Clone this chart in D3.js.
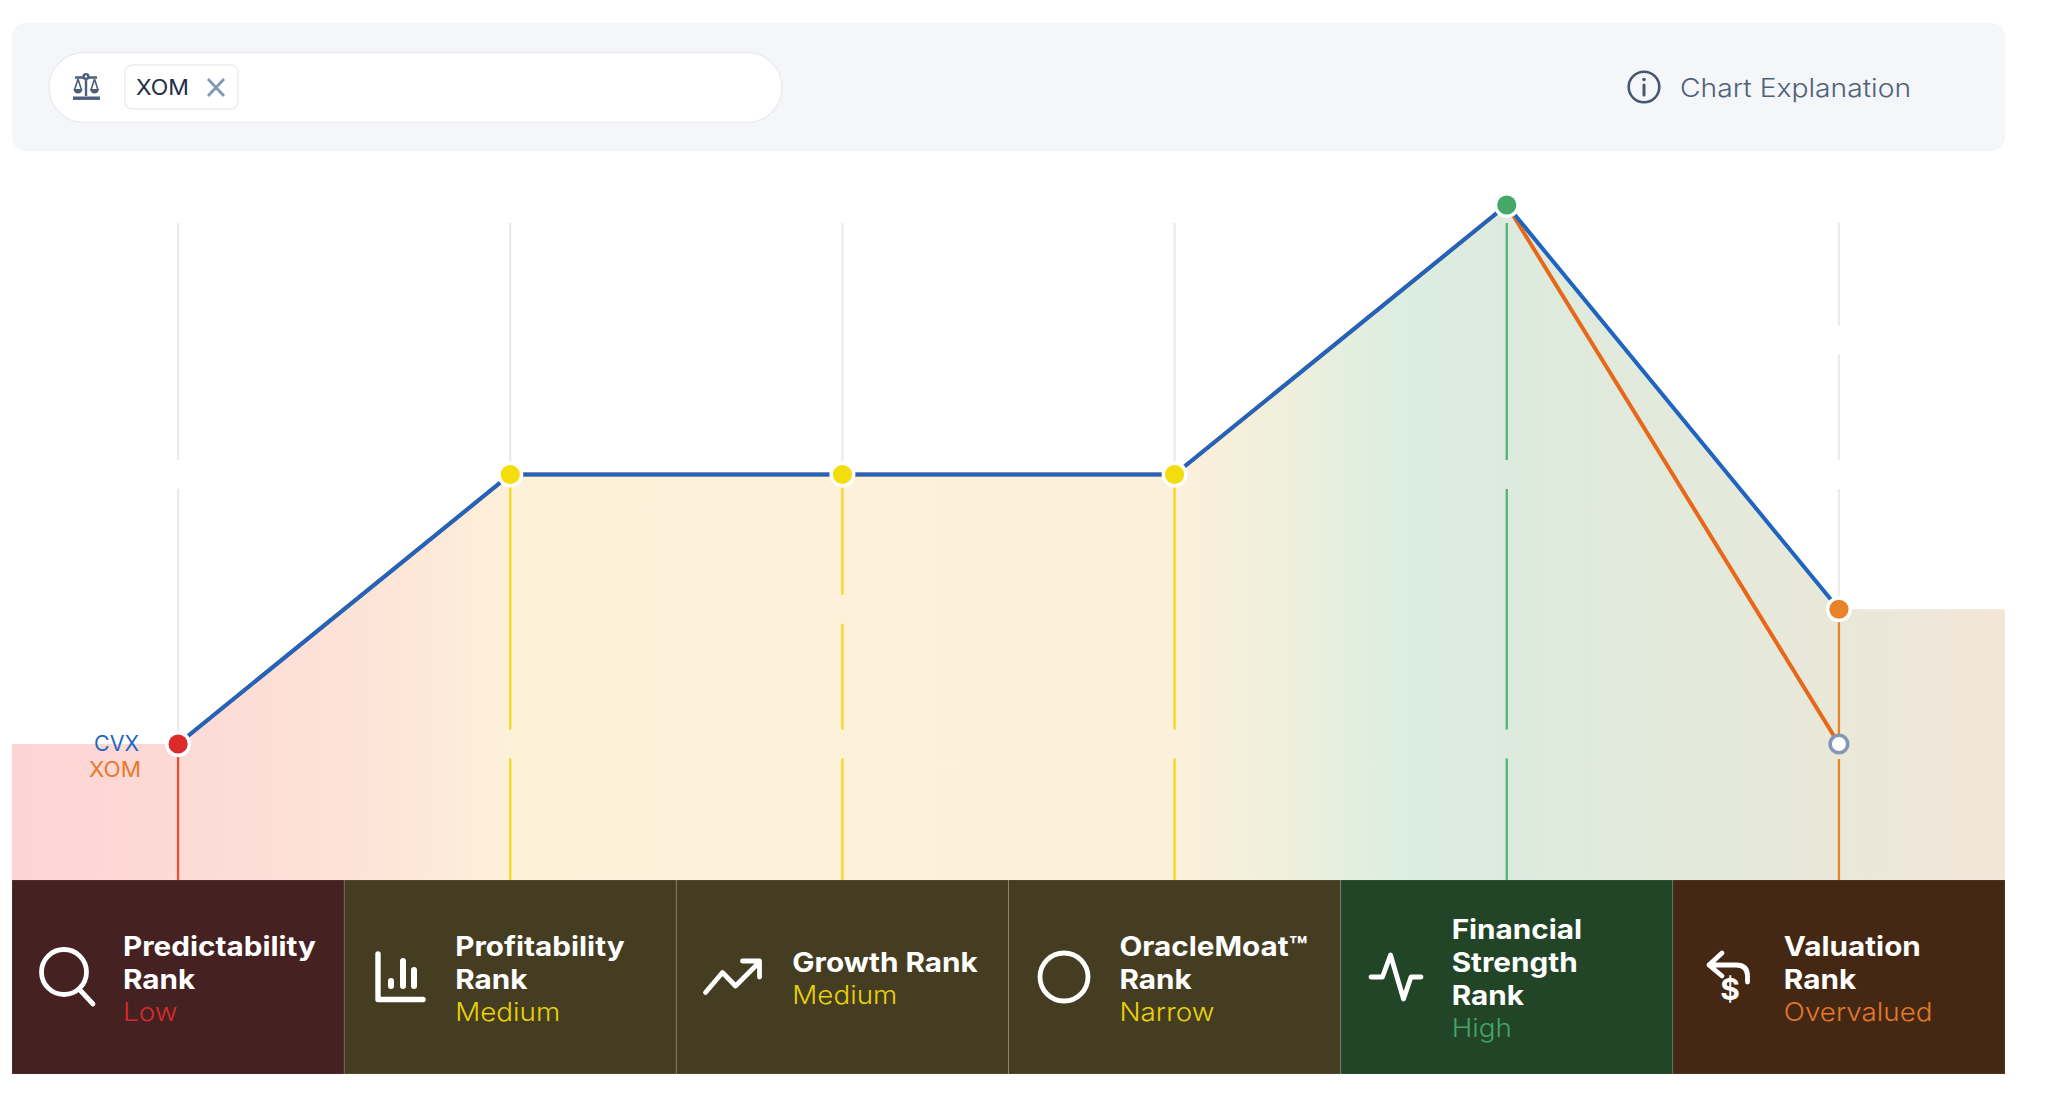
<!DOCTYPE html>
<html>
<head>
<meta charset="utf-8">
<script src="https://cdn.jsdelivr.net/npm/d3@7"></script>
<style>
  html, body { margin: 0; background: #fff; }
  svg { display: block; }
  text { font-family: Inter, "Open Sans", sans-serif; }
</style>
</head>
<body>
<svg id="chart" width="2047" height="1095"></svg>
<script>
// values, rank level 1 (bottom) .. 5 (top)
const categories = ["Predictability", "Profitability", "Growth", "OracleMoat", "Financial", "Valuation"];
const cvxValues = [1, 3, 3, 3, 5, 2];
const xomValues = [1, 3, 3, 3, 5, 1];
const hiddenLevels = [[3], [1], [2, 1], [1], [3, 1], [4, 3]];

const titleLines = [
  ["Predictability", "Rank"],
  ["Profitability", "Rank"],
  ["Growth Rank"],
  ["OracleMoat™", "Rank"],
  ["Financial", "Strength", "Rank"],
  ["Valuation", "Rank"]
];
const rankTexts = ["Low", "Medium", "Medium", "Narrow", "High", "Overvalued"];
const dotColors = ["#dc2a2a", "#f5dc0c", "#f5dc0c", "#f5dc0c", "#45a868", "#e9832a"];
const stemColors = ["#ea4e33", "#f7d917", "#f7d917", "#f7d917", "#55b277", "#e9832a"];
const cellColors = ["#452122", "#453d22", "#453d22", "#453d22", "#224527", "#452814"];
const textColors = ["#d92a2a", "#e9d10a", "#e9d10a", "#e9d10a", "#43a566", "#e2792a"];
const gradientStops = [
  [12, "#fdd4d4"], [178, "#fddad6"], [391, "#fde5d8"], [510, "#fdf1da"],
  [1175, "#fcf0da"], [1305, "#ecefdd"], [1400, "#dbeee0"], [1507, "#dcebde"],
  [1839, "#e9e8d9"], [2005, "#f2e6d8"]
];

const svg = d3.select("#chart");

const left = 12, right = 2005;
const x = d3.scaleBand().domain(categories).range([left, right]);
const cx = (c) => x(c) + x.bandwidth() / 2;
const y = d3.scaleLinear().domain([1, 5]).range([744, 205]);
const gridTop = 223, chartBottom = 880, cellBottom = 1074;

// the original face is wider than anything installed, so stretch the text a bit
const widen = (sel, k) => sel.attr("lengthAdjust", "spacingAndGlyphs")
  .attr("textLength", sel.node().getComputedTextLength() * k);

// top bar
svg.append("rect").attr("x", left).attr("y", 23).attr("width", right - left).attr("height", 128)
  .attr("rx", 14).attr("fill", "#f4f6fa");
svg.append("rect").attr("x", 49).attr("y", 52.5).attr("width", 733).attr("height", 70)
  .attr("rx", 35).attr("fill", "#fff").attr("stroke", "#eaecef").attr("stroke-width", 1.5);
svg.append("rect").attr("x", 125).attr("y", 65).attr("width", 113).attr("height", 44)
  .attr("rx", 7).attr("fill", "#fff").attr("stroke", "#eceef1").attr("stroke-width", 1.5);
svg.append("text").attr("x", 136).attr("y", 94.5).attr("font-size", 21).attr("fill", "#1d2f45")
  .attr("lengthAdjust", "spacingAndGlyphs").attr("textLength", 53).text("XOM");
svg.append("path").attr("d", "M208,79L224,96M224,79L208,96")
  .attr("stroke", "#8298b5").attr("stroke-width", 2.8).attr("fill", "none");

const scales = svg.append("g").attr("fill", "none").attr("stroke", "#4b5f7a").attr("stroke-width", 2.4);
scales.append("path").attr("d", "M75,77.5H97M86,75V96");
scales.append("circle").attr("cx", 86).attr("cy", 76.5).attr("r", 2.4).attr("fill", "#f4f6fa");
scales.append("path").attr("d", "M78,79L74.5,90M78,79L81.5,90M94.5,79L91,90M94.5,79L98,90").attr("stroke-width", 1.6);
scales.append("path").attr("d", "M73.5,89a4.5,4.5 0 0 0 9,0zM90,89a4.5,4.5 0 0 0 9,0z").attr("fill", "#4b5f7a").attr("stroke", "none");
scales.append("rect").attr("x", 73).attr("y", 96.5).attr("width", 27).attr("height", 3.4).attr("fill", "#4b5f7a").attr("stroke", "none");

svg.append("circle").attr("cx", 1644).attr("cy", 87).attr("r", 15.3)
  .attr("fill", "none").attr("stroke", "#46586f").attr("stroke-width", 2.6);
svg.append("path").attr("d", "M1644,85V95").attr("stroke", "#46586f").attr("stroke-width", 3).attr("stroke-linecap", "round");
svg.append("circle").attr("cx", 1644).attr("cy", 79.5).attr("r", 1.8).attr("fill", "#46586f");
svg.append("text").attr("x", 1680).attr("y", 97).attr("font-size", 25).attr("font-weight", 300).attr("fill", "#4f6178")
  .attr("lengthAdjust", "spacingAndGlyphs").attr("textLength", 231).text("Chart Explanation");

// area gradient
const defs = svg.append("defs");
const grad = defs.append("linearGradient").attr("id", "rank-fill")
  .attr("gradientUnits", "userSpaceOnUse")
  .attr("x1", left).attr("x2", right).attr("y1", 0).attr("y2", 0);
gradientStops.forEach(([v, c]) => grad.append("stop")
  .attr("offset", (v - left) / (right - left)).attr("stop-color", c));

const areaPoints = [
  [left, cvxValues[0]],
  ...categories.map((c, i) => [cx(c), cvxValues[i]]),
  [right, cvxValues[cvxValues.length - 1]]
];
const area = d3.area().x((d) => d[0]).y0(chartBottom).y1((d) => y(d[1]));
svg.append("path").datum(areaPoints).attr("d", area).attr("fill", "url(#rank-fill)");

// vertical stems, broken where the rank levels of hidden points sit
const gapHalf = 14.5;
const stem = (c, a, b, color) => svg.append("line")
  .attr("x1", cx(c)).attr("x2", cx(c)).attr("y1", a).attr("y2", b)
  .attr("stroke", color).attr("stroke-width", 2.3);

categories.forEach((c, i) => {
  const gaps = hiddenLevels[i].map((l) => [y(l) - gapHalf, y(l) + gapHalf]);
  if (xomValues[i] !== cvxValues[i]) gaps.push([y(xomValues[i]) - 9, y(xomValues[i]) + 15]);
  gaps.sort((a, b) => a[0] - b[0]);

  const topValue = y(cvxValues[i]);
  let from = gridTop;
  const segs = [];
  gaps.forEach((g) => {
    segs.push([from, g[0]]);
    from = g[1];
  });
  segs.push([from, chartBottom]);
  segs.forEach(([a, b]) => {
    if (a < topValue && b > topValue) {
      stem(c, a, topValue, "#ebebee");
      stem(c, topValue, b, stemColors[i]);
    } else {
      stem(c, a, b, b <= topValue ? "#ebebee" : stemColors[i]);
    }
  });
});

// series lines
const line = d3.line().x((d, i) => cx(categories[i])).y((d) => y(d));
svg.append("path").datum(xomValues).attr("d", line).attr("fill", "none")
  .attr("stroke", "#e8681a").attr("stroke-width", 4);
svg.append("path").datum(cvxValues).attr("d", line).attr("fill", "none")
  .attr("stroke", "#1f64bf").attr("stroke-width", 4);

// points
categories.forEach((c, i) => {
  svg.append("circle").attr("cx", cx(c)).attr("cy", y(cvxValues[i])).attr("r", 13).attr("fill", "#fff");
  svg.append("circle").attr("cx", cx(c)).attr("cy", y(cvxValues[i])).attr("r", 9.6).attr("fill", dotColors[i]);
  if (xomValues[i] !== cvxValues[i]) {
    svg.append("circle").attr("cx", cx(c)).attr("cy", y(xomValues[i])).attr("r", 8.8)
      .attr("fill", "#fff").attr("stroke", "#8497b8").attr("stroke-width", 3.6);
  }
});

svg.append("text").attr("x", 94).attr("y", 751).attr("font-size", 21)
  .attr("fill", "#2467bf").attr("lengthAdjust", "spacingAndGlyphs").attr("textLength", 45).text("CVX");
svg.append("text").attr("x", 89).attr("y", 777).attr("font-size", 21)
  .attr("fill", "#e8782a").attr("lengthAdjust", "spacingAndGlyphs").attr("textLength", 52).text("XOM");

// bottom cells
const cells = svg.append("g").selectAll("g").data(categories).join("g");
cells.append("rect")
  .attr("x", (c) => x(c)).attr("y", chartBottom)
  .attr("width", x.bandwidth()).attr("height", cellBottom - chartBottom)
  .attr("fill", (c, i) => cellColors[i])
  .attr("stroke", "rgba(255,255,255,0.12)").attr("stroke-width", 1);

const lineStep = 33;
cells.each(function (c, i) {
  const g = d3.select(this);
  const lines = titleLines[i];
  // block of title lines + rank text stays centred in the cell
  const first = 972 - (lines.length - 1) * 16.5;
  const tx = x(c) + (c === "Growth" ? 116 : 111);
  lines.forEach((t, k) => {
    const label = g.append("text").attr("x", tx).attr("y", first + k * lineStep)
      .attr("font-size", 26.5).attr("font-weight", 700).attr("fill", "#fff").text(t);
    widen(label, 1.12);
  });
  const rank = g.append("text").attr("x", tx).attr("y", first + lines.length * lineStep - 1)
    .attr("font-size", 25.5).attr("font-weight", 300).attr("fill", textColors[i]).text(rankTexts[i]);
  widen(rank, 1.09);
});

// icons
const icons = svg.append("g").attr("fill", "none").attr("stroke", "#fff")
  .attr("stroke-width", 4.8).attr("stroke-linecap", "round").attr("stroke-linejoin", "round");
icons.append("circle").attr("cx", 64).attr("cy", 972).attr("r", 22.5);
icons.append("path").attr("d", "M79,989L93,1004");
icons.append("path").attr("d", "M378,954V999.5H423").attr("stroke-width", 5.4);
icons.append("path").attr("d", "M391,981V986M403,961V986M414,970V986").attr("stroke-width", 6);
icons.append("path").attr("d", "M705.5,992.5L722.5,972.5L735.5,986L759.5,962M742.5,961H759.5V977");
icons.append("circle").attr("cx", 1064).attr("cy", 977).attr("r", 24);
icons.append("path").attr("d", "M1371,977H1382.5L1390.5,955L1403.5,999L1411,977H1421");
icons.append("path").attr("d", "M1747.5,982V976Q1747.5,965 1736,965H1709M1722,953L1709,965L1722,976");
svg.append("text").attr("x", 1730).attr("y", 1000).attr("text-anchor", "middle")
  .attr("font-size", 30).attr("font-weight", 700).attr("fill", "#fff").text("$");
</script>
</body>
</html>
